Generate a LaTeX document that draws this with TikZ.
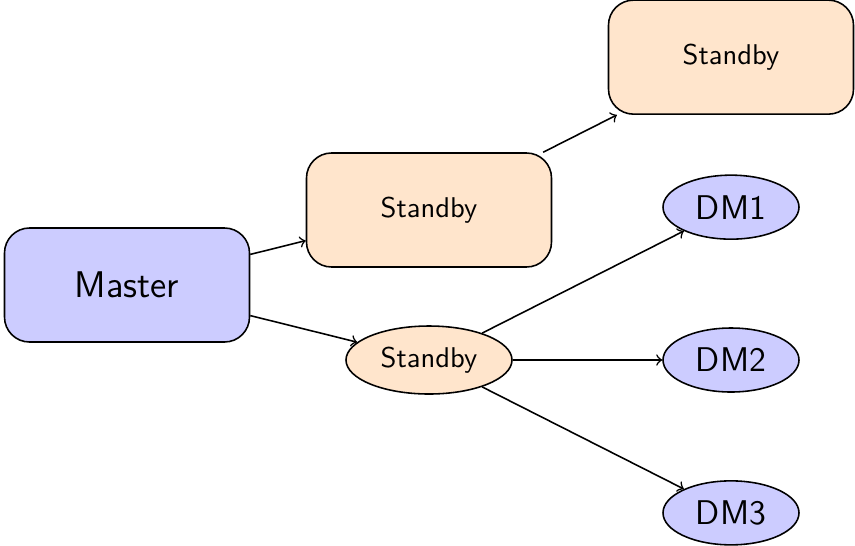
\documentclass[tikz,border=0pt]{standalone}
\usetikzlibrary{shapes.geometric}
\begin{document}
\begin{tikzpicture}
  [grow'=right, level distance=105.7pt, line width=0.55pt,
    every node/.style={draw,font=\sffamily},
    box/.style={rectangle,rounded corners=8.75pt,minimum width=85.75pt,minimum height=39.9pt},
    dm/.style={ellipse,fill=blue!20,minimum width=47.6pt,minimum height=22.4pt,font=\sffamily\large},
    level 1/.style={sibling distance=52.5pt},
    level 2/.style={sibling distance=53.5pt},
    edge from parent/.style={draw,->},
]
  \useasboundingbox (-44.45pt,-91pt) rectangle (254.8pt,99.75pt);
  \node[box,fill=blue!20,font=\sffamily\fontsize{13}{15}\selectfont] (master) {Master}
  child {node[box,fill=orange!20] (standbyA) {Standby}
    child {node[box,fill=orange!20] (standbyB) {Standby}}
    child[missing]
    child[missing]
  }
  child {node[ellipse,fill=orange!20,minimum width=58.1pt,minimum height=23.8pt] (standbyC) {Standby}
    child {node[dm] (dm1) {DM1}}
    child {node[dm] (dm2) {DM2}}
    child {node[dm] (dm3) {DM3}}
  };
\end{tikzpicture}
\end{document}
